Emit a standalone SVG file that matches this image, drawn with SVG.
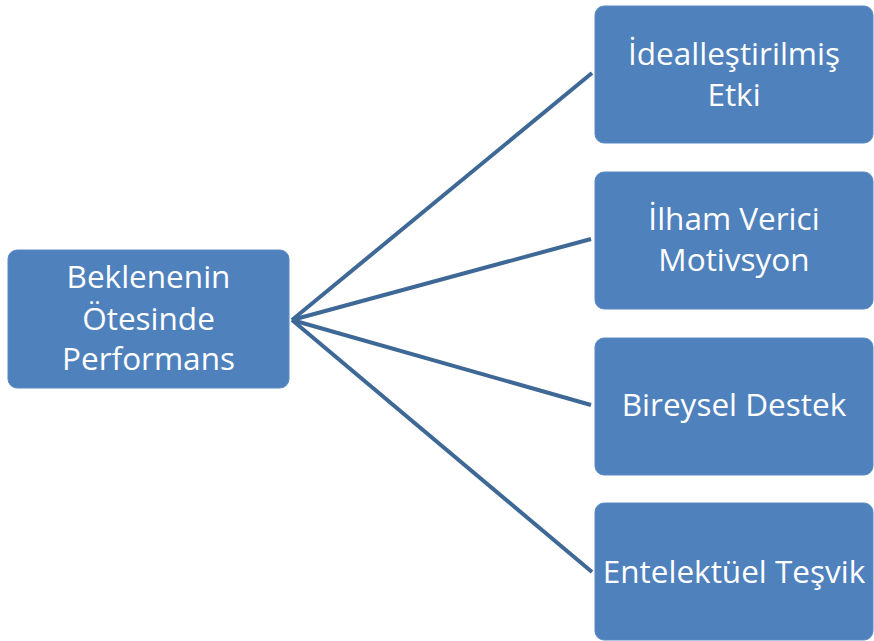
<svg xmlns="http://www.w3.org/2000/svg" width="874" height="641" viewBox="0 0 874 641">
<style>
.box{fill:#4f81bd;stroke:#5a8ac4;stroke-width:1}
.t{font-family:"Open Sans","Liberation Sans",sans-serif;font-size:31.5px;fill:#ffffff;text-anchor:middle}
.c{stroke:#3e6896;stroke-width:4;fill:none;stroke-linecap:butt}
</style>
<rect width="874" height="641" fill="#ffffff"/>
<g id="connectors">
<line class="c" x1="292" y1="320" x2="592" y2="73"/>
<line class="c" x1="292" y1="320" x2="591" y2="239"/>
<line class="c" x1="292" y1="320" x2="591" y2="405"/>
<line class="c" x1="292" y1="320" x2="592" y2="572"/>
</g>
<g id="n0">
<rect class="box" x="8" y="250" width="281" height="138" rx="9"/>
<text class="t" x="148.5" y="288">Beklenenin</text>
<text class="t" x="148.5" y="330">Ötesinde</text>
<text class="t" x="148.5" y="370">Performans</text>
</g>
<g id="n1">
<rect class="box" x="595" y="6" width="278" height="137" rx="9"/>
<text class="t" x="734" y="65">İdealleştirilmiş</text>
<text class="t" x="734" y="106">Etki</text>
</g>
<g id="n2">
<rect class="box" x="595" y="172" width="278" height="137" rx="9"/>
<text class="t" x="734" y="230">İlham Verici</text>
<text class="t" x="734" y="271">Motivsyon</text>
</g>
<g id="n3">
<rect class="box" x="595" y="338" width="278" height="137" rx="9"/>
<text class="t" x="734" y="416">Bireysel Destek</text>
</g>
<g id="n4">
<rect class="box" x="595" y="503" width="278" height="137" rx="9"/>
<text class="t" x="734" y="583">Entelektüel Teşvik</text>
</g>
</svg>
